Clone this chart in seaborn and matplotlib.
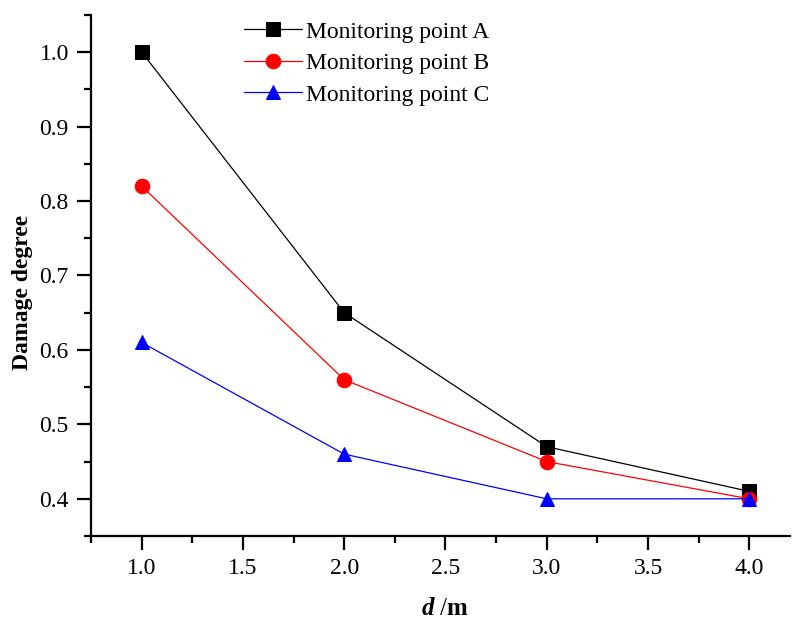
import matplotlib
matplotlib.use("Agg")
import matplotlib.pyplot as plt
import seaborn as sns
import pandas as pd
from matplotlib.ticker import MultipleLocator, FormatStrFormatter

distances = [1.0, 2.0, 3.0, 4.0]
point_a = [1.00, 0.65, 0.47, 0.41]
point_b = [0.82, 0.56, 0.45, 0.40]
point_c = [0.61, 0.46, 0.40, 0.40]
series_names = ["Monitoring point A", "Monitoring point B", "Monitoring point C"]

df = pd.DataFrame({
    "d": distances * 3,
    "damage": point_a + point_b + point_c,
    "series": [series_names[0]] * 4 + [series_names[1]] * 4 + [series_names[2]] * 4,
})

sns.set_style("ticks")
plt.rcParams["font.family"] = ["Liberation Serif", "DejaVu Serif"]
plt.rcParams["mathtext.fontset"] = "custom"
plt.rcParams["mathtext.rm"] = "Liberation Serif"
plt.rcParams["mathtext.it"] = "Liberation Serif:italic:bold"
plt.rcParams["mathtext.bf"] = "Liberation Serif:bold"
plt.rcParams["text.color"] = "black"
plt.rcParams["axes.labelcolor"] = "black"
plt.rcParams["axes.edgecolor"] = "black"
plt.rcParams["xtick.color"] = "black"
plt.rcParams["ytick.color"] = "black"

colors = {series_names[0]: "black", series_names[1]: "red", series_names[2]: "blue"}
markers = {series_names[0]: "s", series_names[1]: "o", series_names[2]: "^"}
msizes = {series_names[0]: 9.5, series_names[1]: 10.5, series_names[2]: 10.5}

fig = plt.figure(figsize=(7.93, 6.19), dpi=100)
ax = fig.add_axes([0.1148, 0.134, 0.8812, 0.842])

for name in series_names:
    sub = df[df["series"] == name]
    sns.lineplot(data=sub, x="d", y="damage", ax=ax, color=colors[name],
                 marker=markers[name], markersize=msizes[name],
                 markeredgecolor=colors[name], linewidth=0.9, label=name)

ax.set_xlim(0.75, 4.2)
ax.set_ylim(0.35, 1.05)
ax.xaxis.set_major_locator(MultipleLocator(0.5))
ax.xaxis.set_minor_locator(MultipleLocator(0.25))
ax.yaxis.set_major_locator(MultipleLocator(0.1))
ax.yaxis.set_minor_locator(MultipleLocator(0.05))
ax.xaxis.set_major_formatter(FormatStrFormatter("%.1f"))
ax.yaxis.set_major_formatter(FormatStrFormatter("%.1f"))

sns.despine(ax=ax)
for s in ["left", "bottom"]:
    ax.spines[s].set_linewidth(1.6)
    ax.spines[s].set_color("black")
ax.tick_params(axis="both", which="major", direction="out", length=10, width=1.6,
               labelsize=17, colors="black", pad=6)
ax.tick_params(axis="both", which="minor", direction="out", length=5, width=1.6,
               colors="black")

ax.set_xlabel(r"$\mathit{d}$ /$\mathbf{m}$", fontsize=18, color="black")
ax.set_ylabel("Damage degree", fontsize=17, fontweight="bold", color="black")
ax.xaxis.label.set_va("center")
ax.yaxis.label.set_va("center")
ax.xaxis.set_label_coords(0.506, -0.14)
ax.yaxis.set_label_coords(-0.098, 0.468)

leg = ax.legend(loc="upper left", bbox_to_anchor=(0.205, 1.006), frameon=False,
                fontsize=17, handlelength=2.45, handletextpad=0.2, labelspacing=0.42,
                borderaxespad=0)
for t in leg.get_texts():
    t.set_color("black")

fig.savefig("out.png", dpi=100)
